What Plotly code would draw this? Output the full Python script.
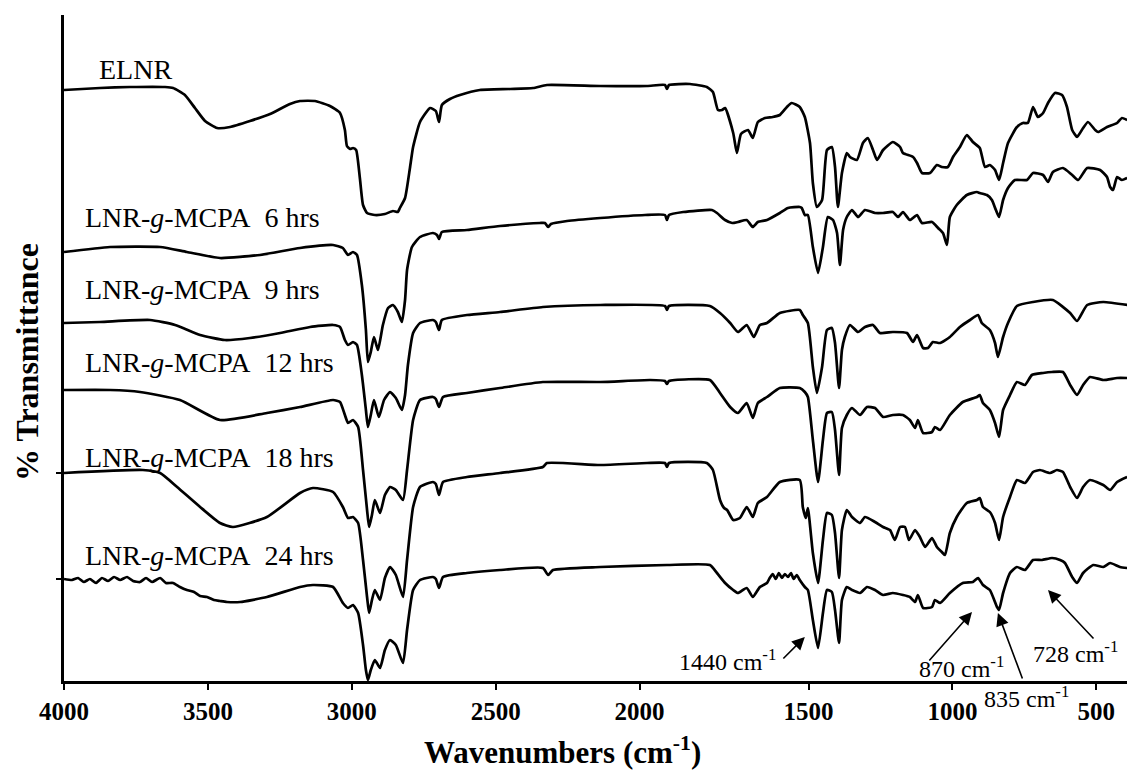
import plotly.graph_objects as go

# ---------------- data (wavenumber in cm-1, offset transmittance in arbitrary units) ----------------
ELNR_WN = [4000,3875,3771,3649,3621,3580,3545,3510,3468,3423,
           3354,3284,3215,3180,3128,3076,3041,3024,3017,3006,
           2996,2985,2972,2961,2947,2920,2885,2857,2840,2833,
           2815,2798,2787,2763,2728,2708,2697,2687,2659,2624,
           2555,2450,2370,2322,2137,1978,1925,1919,1913,1851,
           1801,1783,1768,1756,1747,1723,1712,1700,1679,1665,
           1650,1629,1606,1585,1564,1550,1526,1511,1495,1485,
           1471,1453,1436,1419,1408,1398,1384,1367,1356,1332,
           1311,1294,1276,1262,1241,1207,1182,1172,1137,1123,
           1106,1078,1054,1037,1016,998,974,950,929,905,
           887,870,852,838,824,807,776,755,738,720,
           703,685,668,644,619,602,584,567,546,529,
           504,494,463,428,411,393]
ELNR_T = [591,593,594,594,593,586,573,560,553,554,
          560,567,577,580,580,575,568,551,535,532,
          533,531,503,476,468,466,467,470,469,473,
          483,513,534,559,573,570,559,576,582,586,
          591,592,593,596,595,595,596,592,596,597,
          594,589,571,571,573,548,528,547,551,543,
          559,563,564,566,574,578,574,564,538,498,
          474,481,531,534,514,474,508,528,524,521,
          538,543,531,521,531,539,534,528,524,518,
          508,508,516,514,514,524,534,546,539,533,
          514,516,511,501,518,538,554,558,558,574,
          564,568,578,588,586,574,551,544,553,559,
          551,549,554,558,563,561]

H6_WN = [4000,3840,3666,3573,3458,3319,3180,3065,3031,3013,
         2996,2982,2965,2951,2944,2934,2923,2909,2892,2874,
         2857,2840,2826,2815,2808,2791,2763,2718,2704,2697,
         2687,2600,2485,2346,2329,2318,2308,2252,2137,1984,
         1925,1919,1913,1871,1786,1771,1747,1726,1709,1683,
         1665,1650,1623,1585,1561,1526,1520,1511,1502,1485,
         1467,1450,1433,1415,1401,1391,1380,1367,1349,1328,
         1304,1269,1241,1207,1189,1172,1148,1123,1106,1071,
         1050,1033,1019,1009,985,950,915,905,880,863,
         849,838,824,807,783,741,720,685,668,651,
         616,584,563,532,487,463,452,442,428,411,393]
H6_T = [429,434,434,429,423,426,433,436,433,426,
        429,426,396,351,319,329,344,331,356,373,
        376,369,359,381,411,434,444,448,446,442,
        449,451,455,458,458,454,457,460,463,466,
        466,461,466,469,471,468,461,458,459,461,
        454,459,461,468,473,474,473,466,466,434,
        408,434,464,461,448,416,451,464,471,464,
        471,468,468,469,464,469,461,466,458,459,
        453,448,436,464,476,486,489,488,486,481,
        471,464,481,493,501,501,508,506,499,509,
        513,506,501,513,511,504,494,491,504,501,503]

H9_WN = [4000,3875,3701,3614,3527,3441,3354,3249,3145,3065,
         3041,3024,3013,2996,2982,2965,2951,2944,2934,2923,
         2906,2888,2867,2847,2826,2815,2805,2787,2763,2718,
         2708,2697,2687,2600,2485,2336,2137,1925,1919,1913,
         1792,1762,1732,1709,1683,1662,1644,1623,1585,1526,
         1517,1502,1485,1471,1453,1436,1419,1408,1394,1384,
         1374,1356,1328,1304,1276,1252,1207,1158,1137,1123,
         1102,1085,1068,1043,1009,974,939,911,898,870,
         852,842,824,807,776,720,651,591,567,532,
         476,393]
H9_T = [358,359,361,356,346,341,343,348,354,356,
        354,341,336,339,336,306,271,254,266,281,
        264,281,289,283,271,286,316,348,358,361,
        359,351,361,366,369,374,376,375,371,375,
        375,368,358,349,356,344,356,358,368,371,
        366,358,314,288,314,351,353,338,293,331,
        344,356,349,354,356,348,349,348,339,346,
        333,333,339,338,344,354,361,366,358,351,
        338,324,344,358,375,379,381,368,360,376,
        379,376]

H12_WN = [4000,3840,3736,3597,3458,3295,3180,3065,3041,3024,
          3013,2996,2978,2961,2947,2940,2930,2920,2902,2885,
          2867,2847,2822,2808,2787,2763,2718,2708,2697,2683,
          2600,2485,2336,2137,1969,1925,1919,1913,1792,1762,
          1732,1709,1683,1665,1650,1623,1585,1526,1511,1502,
          1485,1467,1450,1436,1419,1408,1394,1384,1367,1349,
          1321,1297,1269,1241,1207,1172,1148,1130,1120,1102,
          1071,1061,1043,1009,964,915,905,894,870,852,
          838,824,800,776,748,724,685,654,616,591,
          567,546,522,476,428,393]
H12_T = [291,291,289,281,261,268,274,281,279,266,
         258,261,254,211,171,154,166,181,168,186,
         194,191,181,211,261,281,284,282,274,284,
         288,293,299,299,301,300,297,300,301,288,
         274,268,278,263,278,284,293,293,289,284,
         241,199,241,268,269,251,206,253,266,273,
         266,274,273,264,266,266,261,253,261,248,
         249,254,251,266,279,284,286,278,271,258,
         244,271,286,299,296,306,308,309,309,296,
         286,296,304,301,303,303]

H18_WN = [4000,3726,3666,3607,3527,3458,3413,3295,3180,3135,
          3065,3031,3013,2996,2978,2961,2947,2940,2930,2920,
          2902,2885,2867,2847,2822,2808,2787,2763,2718,2708,
          2697,2683,2600,2485,2336,2322,2137,1978,1925,1919,
          1913,1801,1783,1762,1750,1741,1723,1703,1683,1665,
          1650,1623,1585,1526,1517,1508,1502,1485,1467,1450,
          1436,1419,1408,1394,1384,1367,1349,1321,1304,1269,
          1241,1217,1200,1182,1165,1151,1130,1113,1095,1071,
          1054,1037,1026,1009,985,950,915,905,894,870,
          852,838,824,800,776,748,720,696,661,637,
          616,591,567,546,522,476,452,428,393]
H18_T = [208,211,208,194,174,158,154,164,188,193,
         189,174,163,164,158,121,84,68,81,91,
         81,103,114,106,84,121,174,194,199,197,
         186,199,204,208,214,218,216,218,218,214,
         218,218,211,181,173,171,161,163,174,164,
         178,184,199,201,174,163,173,128,98,141,
         168,166,148,103,151,171,164,158,164,159,
         154,151,141,154,154,141,151,144,134,143,
         134,129,126,148,164,178,181,183,174,169,
         158,141,164,184,201,198,209,211,208,211,
         209,194,183,194,201,196,191,199,204]

H24_WN = [4000,3972,3951,3931,3910,3889,3868,3847,3826,3805,
          3781,3760,3736,3715,3694,3666,3646,3621,3597,3573,
          3548,3527,3503,3479,3458,3434,3388,3295,3180,3135,
          3065,3031,3013,2996,2978,2961,2951,2944,2934,2920,
          2902,2885,2867,2847,2822,2808,2787,2763,2718,2708,
          2697,2683,2600,2485,2336,2318,2301,2137,1919,1792,
          1771,1747,1723,1709,1683,1665,1644,1623,1615,1606,
          1597,1588,1579,1570,1561,1552,1544,1535,1526,1511,
          1502,1485,1467,1450,1436,1419,1408,1394,1384,1367,
          1349,1321,1297,1269,1241,1207,1172,1148,1130,1120,
          1102,1071,1061,1043,1009,964,929,911,894,870,
          845,838,824,800,776,748,720,689,654,626,
          609,584,567,546,511,476,452,418,393]
H24_T = [102,101,103,99,102,98,103,100,104,101,
         104,100,99,103,99,103,98,98,94,91,
         89,85,84,81,80,79,79,84,94,96,
         94,78,73,76,68,36,11,1,11,21,
         13,31,41,36,18,51,91,101,104,102,
         93,104,108,111,113,106,111,114,116,116,
         108,98,91,88,93,84,94,98,103,107,
         102,108,103,107,104,108,102,106,101,94,
         91,61,33,68,91,89,71,38,81,94,
         91,88,94,91,86,88,86,84,79,86,
         73,74,81,78,88,98,99,103,96,91,
         74,71,88,108,114,111,121,121,123,121,
         118,104,98,108,116,114,118,114,113]

SERIES_NAMES = ["ELNR",
                "LNR-<i>g</i>-MCPA&nbsp; 6 hrs",
                "LNR-<i>g</i>-MCPA&nbsp; 9 hrs",
                "LNR-<i>g</i>-MCPA&nbsp; 12 hrs",
                "LNR-<i>g</i>-MCPA&nbsp; 18 hrs",
                "LNR-<i>g</i>-MCPA&nbsp; 24 hrs"]
SERIES = [(ELNR_WN, ELNR_T), (H6_WN, H6_T), (H9_WN, H9_T),
          (H12_WN, H12_T), (H18_WN, H18_T), (H24_WN, H24_T)]

TICK_WN = [4000, 3500, 3000, 2500, 2000, 1500, 1000, 500]
TICK_TEXT = ["4000", "3500", "3000", "2500", "2000", "1500", "1000", "500"]

# band annotations: label, text position (wn, T), arrow tail (wn, T), arrow head (wn, T)
BANDS = [
    ("1440 cm<sup>-1</sup>", (1741, 21), (1579, 21), (1511, 44)),
    ("870 cm<sup>-1</sup>", (968, 14), (1085, 19), (932, 69)),
    ("835 cm<sup>-1</sup>", (742, -16), (755, 1), (842, 68)),
    ("728 cm<sup>-1</sup>", (572, 29), (505, 41), (668, 91)),
]


# the original figure's wavenumber axis is expanded between 2000 and 1500 cm-1
def wn_to_u(w):
    if w >= 2000:
        return w
    if w >= 1500:
        return 2000 - (2000 - w) * 1.174
    return w - 87


W, H = 1127, 775
ML, MR, MT, MB = 64, 0, 15, 94
PW, PH = W - ML - MR, H - MT - MB
U_LEFT = 4000.0
U_RIGHT = U_LEFT - PW * 3.4746
Y_RANGE = [0, PH]

SERIF = "Liberation Serif, Times New Roman, serif"

fig = go.Figure()
for (wn, t), name in zip(SERIES, SERIES_NAMES):
    fig.add_trace(go.Scatter(
        x=[wn_to_u(w) for w in wn], y=t, mode="lines",
        line=dict(color="black", width=2.7, shape="spline", smoothing=0.5),
        name=name, showlegend=False, hoverinfo="skip"))

# series labels (left-aligned)
LABEL_POS = [(97, 70), (83, 217), (83, 289), (83, 362), (83, 458), (83, 555)]
for name, (px, py) in zip(SERIES_NAMES, LABEL_POS):
    fig.add_annotation(
        xref="paper", yref="paper",
        x=(px - ML) / PW, y=(H - MB - py) / PH,
        text=name, showarrow=False, xanchor="left", yanchor="middle",
        font=dict(family=SERIF, size=28, color="black"))

for label, (tx, ty), (ax_, ay_), (hx, hy) in BANDS:
    fig.add_annotation(
        x=wn_to_u(tx), y=ty / PH, xref="x", yref="paper", text=label,
        showarrow=False, xanchor="center", yanchor="middle",
        font=dict(family=SERIF, size=24, color="black"))
    fig.add_annotation(
        x=wn_to_u(hx), y=hy, xref="x", yref="y", text="",
        showarrow=True, axref="x", ayref="y", ax=wn_to_u(ax_), ay=ay_,
        arrowhead=2, arrowsize=1.6, arrowwidth=1.6, arrowcolor="black")

# axis titles
fig.add_annotation(
    xref="paper", yref="paper", x=(562 - ML) / PW, y=(H - MB - 750) / PH,
    text="<b>Wavenumbers (cm<sup>-1</sup>)</b>", showarrow=False,
    xanchor="center", yanchor="middle",
    font=dict(family=SERIF, size=31, color="black"))
fig.add_annotation(
    xref="paper", yref="paper", x=(27 - ML) / PW, y=(H - MB - 362) / PH,
    text="<b>% Transmittance</b>", showarrow=False, textangle=-90,
    xanchor="center", yanchor="middle",
    font=dict(family=SERIF, size=32, color="black"))

fig.update_xaxes(
    range=[U_LEFT, U_RIGHT], showgrid=False, zeroline=False,
    showline=True, linecolor="black", linewidth=3,
    ticks="outside", ticklen=6, tickwidth=2, tickcolor="black",
    tickvals=[wn_to_u(w) for w in TICK_WN], ticktext=TICK_TEXT,
    tickfont=dict(family=SERIF, size=25, color="black", weight="bold"))
fig.update_yaxes(
    range=Y_RANGE, showgrid=False, zeroline=False,
    showline=True, linecolor="black", linewidth=3,
    ticks="outside", ticklen=5, tickwidth=1.5, tickcolor="black",
    tickvals=[102, 208], showticklabels=False)

fig.update_layout(
    width=W, height=H, margin=dict(l=ML, r=MR, t=MT, b=MB),
    paper_bgcolor="white", plot_bgcolor="white")

fig.write_html(
    "out.html",
    config={"displayModeBar": False},
    post_script="document.body.style.margin='0px';document.body.style.overflow='hidden';")
